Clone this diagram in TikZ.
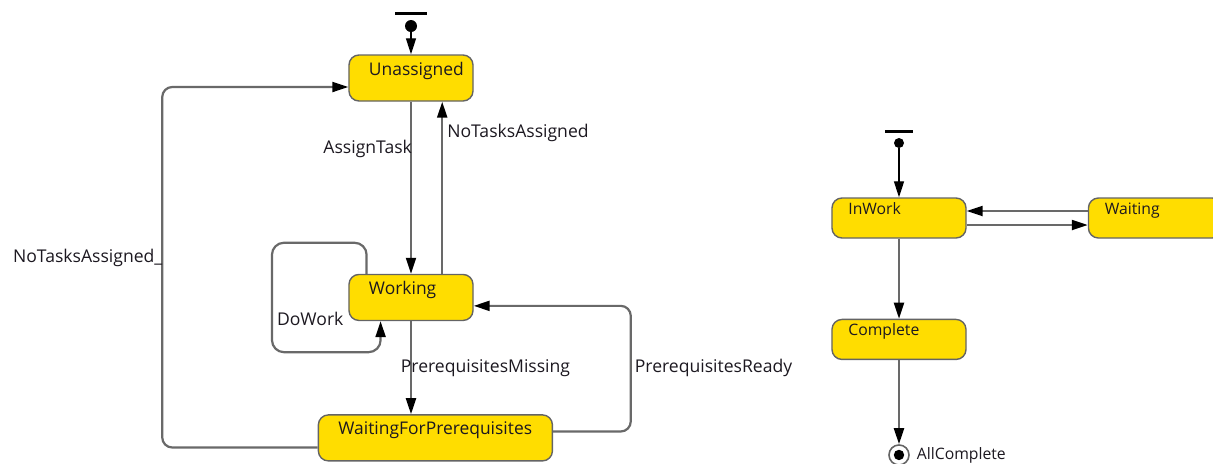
\documentclass[tikz,border=0pt]{standalone}
\usepackage{fontspec}
\setmainfont{Open Sans}
\usetikzlibrary{positioning,arrows.meta}
\definecolor{stategold}{RGB}{255,221,0}
\definecolor{stateline}{RGB}{100,100,100}
\definecolor{wiregray}{RGB}{105,105,105}
\definecolor{ink}{RGB}{28,24,32}
\tikzset{
  bigstate/.style={draw=stateline, fill=stategold, line width=0.035cm, rounded corners=0.25cm,
    inner xsep=0.5cm, inner ysep=0pt, text height=0.5cm, text depth=0.65cm, align=left,
    text=ink, font=\fontsize{12.4}{14}\selectfont},
  smallstate/.style={bigstate, inner xsep=0.41cm, text height=0.41cm, text depth=0.59cm,
    font=\fontsize{11.2}{13}\selectfont},
  startdot/.style={circle, fill=black, inner sep=0pt},
  startbar/.style={rectangle, fill=black, inner sep=0pt, minimum height=0.075cm},
  enddot/.style={circle, draw=stateline, line width=0.04cm, minimum size=0.5cm, inner sep=0pt,
    path picture={\fill[black] (path picture bounding box.center) circle (0.13cm);}},
  trans/.style={draw=wiregray, line width=0.055cm, ->},
  startwire/.style={draw=black, line width=0.035cm},
  lbl/.style={font=\fontsize{12.5}{14}\selectfont, text=ink, inner sep=0pt}
}

\begin{document}
\begin{tikzpicture}[x=0.025cm, y=-0.025cm, >={Triangle[length=0.4cm,width=0.25cm,color=black]}]
  \path[use as bounding box, clip] (0,0) rectangle (1213,463);

  % task states
  \node[bigstate, text width=2.1cm] (unassigned) at (411,78) {Unassigned};
  \node[bigstate, text width=2.1cm] (working) [below=4.3cm of unassigned] {Working};
  \node[bigstate, text width=4.85cm] (waitprereq) [below=2.325cm of working, xshift=0.61cm] {WaitingForPrerequisites};
  \node[startdot, minimum size=0.3cm] (startL) [above=0.55cm of unassigned] {};
  \node[startbar, minimum width=0.78cm] (barL) [above=0.12cm of startL] {};

  \coordinate (loopNW) at ([xshift=-3.475cm, yshift=0.775cm]working.north);
  \coordinate (loopSE) at ([xshift=-0.76cm, yshift=-0.775cm]working.south);
  \coordinate (readyturn) at ([xshift=3.925cm, yshift=-0.21cm]working.east);
  \coordinate (backturn) at ([xshift=-4.65cm, yshift=-0.225cm]unassigned.west);
  \coordinate (notaskslow) at ([xshift=0.78cm]working.north);
  \coordinate (notaskshigh) at ([xshift=0.78cm]unassigned.south);

  \path[trans]
    (startL) edge[startwire] (unassigned)
    (unassigned) edge node[lbl, pos=0.3, anchor=base east, xshift=0.05cm] {AssignTask} (working)
    (working) edge node[lbl, pos=0.55, anchor=base west, xshift=-0.28cm] {PrerequisitesMissing} (working.south |- waitprereq.north);
  \draw[trans] (notaskslow) -- node[lbl, pos=0.79, anchor=base west, xshift=0.1cm] {NoTasksAssigned} (notaskshigh);

  \draw[trans, rounded corners=0.3cm] ([xshift=-1.11cm]working.north) |- (loopNW)
    |- node[lbl, pos=0.376, anchor=base west, xshift=0.1cm] {DoWork} (loopSE) -- ([xshift=-0.76cm]working.south);
  \draw[trans, rounded corners=0.25cm] ([yshift=0.16cm]waitprereq.east)
    -| node[lbl, pos=0.736, anchor=base west, xshift=0.075cm] {PrerequisitesReady} (readyturn) -- ([yshift=-0.21cm]working.east);
  \draw[trans, rounded corners=0.25cm] ([yshift=-0.24cm]waitprereq.west)
    -| node[lbl, pos=0.757, anchor=base east, xshift=0.03cm] {NoTasksAssigned\_} (backturn) -- ([yshift=-0.225cm]unassigned.west);

  % work states
  \node[smallstate, text width=2.53cm] (inwork) at (899,218) {InWork};
  \node[smallstate, text width=2.53cm] (waiting) [right=3.025cm of inwork] {Waiting};
  \node[smallstate, text width=2.53cm] (complete) [below=2cm of inwork] {Complete};
  \node[enddot] (allcomplete) [below=2.1cm of complete,
    label={[lbl, font=\fontsize{11.2}{13}\selectfont, label distance=0.17cm]east:AllComplete}] {};
  \node[startdot, minimum size=0.25cm] (startR) [above=1.225cm of inwork] {};
  \node[startbar, minimum width=0.68cm] (barR) [above=0.11cm of startR] {};

  \coordinate (inworkout) at ([yshift=-0.175cm]inwork.east);
  \coordinate (waitingin) at ([yshift=-0.175cm]waiting.west);
  \coordinate (waitingout) at ([yshift=0.175cm]waiting.west);
  \coordinate (inworkin) at ([yshift=0.175cm]inwork.east);

  \path[trans]
    (startR) edge[startwire] (inwork)
    (inwork) edge (complete)
    (complete) edge (allcomplete);
  \draw[trans] (inworkout) -- (waitingin);
  \draw[trans] (waitingout) -- (inworkin);
\end{tikzpicture}
\end{document}
